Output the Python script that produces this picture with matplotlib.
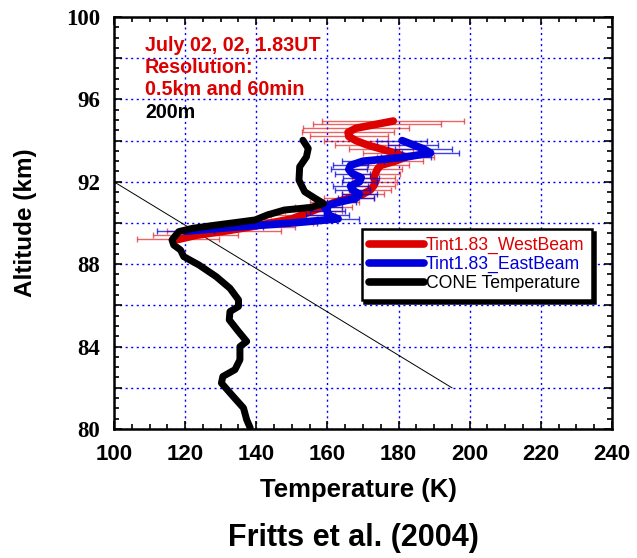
import numpy as np
import matplotlib
matplotlib.use('Agg')
import matplotlib.pyplot as plt
from matplotlib.ticker import MultipleLocator, FuncFormatter

# CONE Temperaturprofil (T in K, z in km)
cone_T = [153.1, 154.6, 154.1, 152.2, 152.0, 153.6, 156.5, 158.9, 155.5, 147.9,
          143.1, 139.7, 134.5, 128.7, 122.0, 118.2, 116.3, 116.8, 118.7, 119.6,
          123.9, 128.7, 132.6, 135.0, 135.0, 132.6, 132.4, 135.0, 137.3, 135.4,
          135.4, 134.0, 130.6, 130.2, 133.5, 136.4, 137.3, 138.3]
cone_z = [94.02, 93.62, 93.21, 92.73, 92.08, 91.52, 91.20, 90.95, 90.76, 90.63,
          90.39, 90.15, 90.03, 89.90, 89.74, 89.58, 89.18, 88.93, 88.69, 88.37,
          87.96, 87.40, 86.83, 86.27, 85.95, 85.70, 85.30, 84.73, 84.25, 84.00,
          83.36, 82.88, 82.55, 82.23, 81.58, 81.02, 80.45, 80.05]

# West beam
west_z = [89.2, 89.4, 89.6, 89.8, 90.0, 90.2, 90.4, 90.6, 90.8, 91.0,
          91.2, 91.4, 91.6, 91.8, 92.0, 92.2, 92.4, 92.6, 92.8, 93.0,
          93.2, 93.4, 93.6, 93.8, 94.0, 94.2, 94.4, 94.6, 94.8, 94.95]
west_T = [118, 123, 131, 138, 144, 150, 153, 156, 159, 162,
          166, 170, 172, 173, 173.5, 173, 173.5, 174, 175, 179,
          182, 179, 175, 171, 168, 166, 165.8, 168, 174, 178.5]
west_err = [11.5, 12, 16, 13, 12, 10, 9, 8, 8, 7,
            7, 6, 6, 6, 6, 6, 7, 7, 8, 8,
            8, 9, 9, 9, 9, 11, 13, 15, 18, 20]

# East beam
east_z = [89.6, 89.8, 90.0, 90.2, 90.4, 90.6, 90.8, 91.0, 91.2, 91.4,
          91.6, 91.8, 92.0, 92.2, 92.4, 92.6, 92.8, 93.0, 93.2, 93.4,
          93.6, 93.8, 94.0]
east_T = [120, 134, 150, 163, 160, 160, 159, 163, 168, 169,
          167, 166.5, 169, 169.5, 167, 166, 166.5, 170, 182, 189,
          187, 184, 181]
east_err = [8, 8, 7, 6, 6, 5, 5, 5, 5, 5,
            5, 5, 5, 5, 5, 5, 5, 6, 7, 8,
            8, 7, 7]

# adiabatische Referenzlinie
adiab_T = [100, 195]
adiab_z = [92, 82]

red = '#dd0000'
blue = '#0000dd'

fig = plt.figure(figsize=(6.37, 5.58), dpi=100)
ax = fig.add_axes([114/637, 1 - 429/558, 498/637, 412/558])

ax.errorbar(west_T, west_z, xerr=west_err, fmt='none', ecolor=red, alpha=0.6,
            elinewidth=1.0, capsize=2.5, capthick=1.0, zorder=3)
ax.plot(west_T, west_z, color=red, lw=5.5, solid_capstyle='round',
        solid_joinstyle='round', label='Tint1.83_WestBeam', zorder=4)
ax.errorbar(east_T, east_z, xerr=east_err, fmt='none', ecolor=blue, alpha=0.75,
            elinewidth=1.0, capsize=2.5, capthick=1.0, zorder=5)
ax.plot(east_T, east_z, color=blue, lw=5.5, solid_capstyle='round',
        solid_joinstyle='round', label='Tint1.83_EastBeam', zorder=6)
ax.plot(cone_T, cone_z, color='black', lw=5, solid_capstyle='round',
        solid_joinstyle='round', label='CONE Temperature', zorder=7)
ax.plot(adiab_T, adiab_z, color='black', lw=0.7, zorder=2)

ax.set_xlim(100, 240)
ax.set_ylim(80, 100)
ax.xaxis.set_major_locator(MultipleLocator(20))
ax.xaxis.set_minor_locator(MultipleLocator(5))
ax.yaxis.set_major_locator(MultipleLocator(2))
ax.yaxis.set_minor_locator(MultipleLocator(0.5))
ax.yaxis.set_major_formatter(FuncFormatter(lambda v, p: f'{v:.0f}' if round(v) % 4 == 0 else ''))
ax.grid(True, which='major', color='#0000ff', ls=(0, (1.5, 2.5)), lw=1.0)

ax.tick_params(which='both', direction='in', top=True, right=True, width=1.2)
ax.tick_params(which='major', length=6)
ax.tick_params(which='minor', length=3.5)
ax.tick_params(axis='x', pad=11)
ax.tick_params(axis='y', pad=10)
for lab in ax.get_xticklabels():
    lab.set_fontfamily('Liberation Sans')
    lab.set_fontweight('bold')
    lab.set_fontsize(16)
for lab in ax.get_yticklabels():
    lab.set_fontfamily('Liberation Serif')
    lab.set_fontweight('bold')
    lab.set_fontsize(16.5)
for s in ax.spines.values():
    s.set_linewidth(1.8)

txt = dict(transform=ax.transAxes, fontfamily='Liberation Sans', fontweight='bold',
           fontsize=14.2, va='baseline', ha='left')
ax.text(0.062, 0.9175, 'July 02, 02, 1.83UT', color=red, **txt)
ax.text(0.062, 0.8635, 'Resolution:', color=red, **txt)
ax.text(0.062, 0.811, '0.5km and 60min', color=red, **txt)
ax.text(0.062, 0.754, '200m', color='black', **txt)

leg = ax.legend(loc='upper left', bbox_to_anchor=(0.497, 0.4854), borderaxespad=0,
                fancybox=False, shadow={'color': 'black', 'alpha': 1},
                edgecolor='black', framealpha=1, labelcolor='linecolor',
                prop={'family': 'Liberation Sans', 'size': 12.7},
                handlelength=3.1, handletextpad=0.1, labelspacing=0.1,
                borderpad=0.45)
leg.get_frame().set_linewidth(1.8)
for h in leg.legend_handles:
    h.set_linewidth(5.5)

fig.text(358/637, 1 - 490/558, 'Temperature (K)', ha='center', va='center',
         fontfamily='Liberation Sans', fontweight='bold', fontsize=18.5)
fig.text(26/637, 1 - 223/558, 'Altitude (km)', ha='center', va='center', rotation=90,
         fontfamily='Liberation Sans', fontweight='bold', fontsize=17.5)
fig.text(353/637, 1 - 538/558, 'Fritts et al. (2004)', ha='center', va='center',
         fontfamily='Liberation Sans', fontweight='bold', fontsize=22)

fig.savefig('out.png', dpi=100)
